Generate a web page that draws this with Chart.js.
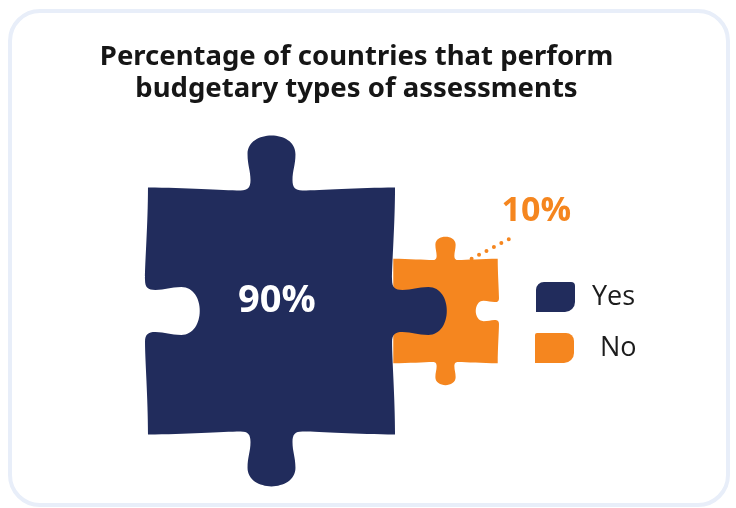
<!DOCTYPE html>
<html>
<head>
<meta charset="utf-8">
<script src="https://cdn.jsdelivr.net/npm/chart.js@4.4.1/dist/chart.umd.min.js"></script>
<style>
  html, body { margin: 0; padding: 0; background: #fff; }
  body { width: 736px; height: 508px; position: relative; overflow: hidden; }
  .card {
    position: absolute; left: 8px; top: 9px; width: 714px; height: 490px;
    border: 4px solid #e8eef9; border-radius: 32px; background: #fff;
  }
  canvas { position: absolute; left: 0; top: 0; }
</style>
</head>
<body>
<div class="card"></div>
<canvas id="puzzleChart" width="736" height="508"></canvas>
<script>
const titleLines = ['Percentage of countries that perform', 'budgetary types of assessments'];
const answers = ['Yes', 'No'];
const shares = [90, 10];
const pieceColors = ['#212c5c', '#f5861f'];

// knob/hole per side: top, right, bottom, left (1 = knob, -1 = hole, 0 = flat)
const pieceEdges = [[1, 1, 1, -1], [1, -1, 1, 0]];

// one side of a piece as cubic segments, (t along the side, n outwards), unit length
const KNOB = [
  [0.15, 0, 0.3, -0.012, 0.375, -0.012],
  [0.405, -0.012, 0.415, 0, 0.415, 0.03],
  [0.415, 0.07, 0.403, 0.09, 0.403, 0.135],
  [0.403, 0.235, 0.597, 0.235, 0.597, 0.135],
  [0.597, 0.09, 0.585, 0.07, 0.585, 0.03],
  [0.585, 0, 0.595, -0.012, 0.625, -0.012],
  [0.7, -0.012, 0.85, 0, 1, 0]
];

function side(ctx, dir, map) {
  if (!dir) {
    const p = map(1, 0);
    ctx.lineTo(p[0], p[1]);
    return;
  }
  KNOB.forEach(c => {
    const a = map(c[0], c[1] * dir), b = map(c[2], c[3] * dir), e = map(c[4], c[5] * dir);
    ctx.bezierCurveTo(a[0], a[1], b[0], b[1], e[0], e[1]);
  });
}

function piecePath(ctx, cx, cy, s, edges) {
  const L = cx - s / 2, T = cy - s / 2, R = cx + s / 2, B = cy + s / 2;
  ctx.beginPath();
  ctx.moveTo(L, T);
  side(ctx, edges[0], (t, n) => [L + t * s, T - n * s]);
  side(ctx, edges[1], (t, n) => [R + n * s, T + t * s]);
  side(ctx, edges[2], (t, n) => [R - t * s, B + n * s]);
  side(ctx, edges[3], (t, n) => [L - n * s, B - t * s]);
  ctx.closePath();
}

function pieceBox(chart, i) {
  const bar = chart.getDatasetMeta(0).data[i];
  const {x, y, base} = bar.getProps(['x', 'y', 'base'], true);
  const area = chart.chartArea;
  return {x: x, y: (area.top + area.bottom) / 2, s: base - y};
}

// bars are drawn as jigsaw pieces, side = bar height
const puzzlePieces = {
  id: 'puzzlePieces',
  beforeDatasetsDraw(chart) {
    const ctx = chart.ctx;
    ctx.save();
    // small piece first so the big one's knob sits over it
    [1, 0].forEach(i => {
      const p = pieceBox(chart, i);
      piecePath(ctx, p.x, p.y, p.s, pieceEdges[i]);
      ctx.fillStyle = pieceColors[i];
      ctx.fill();
    });
    ctx.restore();
    return false;
  },
  afterDraw(chart) {
    const ctx = chart.ctx;
    ctx.save();
    ctx.textAlign = 'center';
    ctx.textBaseline = 'middle';

    const big = pieceBox(chart, 0);
    ctx.fillStyle = '#ffffff';
    ctx.font = 'bold 38px "Open Sans"';
    ctx.fillText(shares[0] + '%', big.x + 0.022 * big.s, big.y - 0.04 * big.s);

    const small = pieceBox(chart, 1);
    ctx.strokeStyle = pieceColors[1];
    ctx.lineWidth = 4;
    ctx.lineCap = 'round';
    ctx.setLineDash([0, 8.4]);
    ctx.beginPath();
    ctx.moveTo(small.x + 0.25 * small.s, small.y - 0.5 * small.s);
    ctx.lineTo(small.x + 0.62 * small.s, small.y - 0.695 * small.s);
    ctx.stroke();
    ctx.setLineDash([]);
    ctx.fillStyle = pieceColors[1];
    ctx.font = 'bold 34px "Open Sans"';
    ctx.fillText(shares[1] + '%', small.x + 0.87 * small.s, small.y - 0.95 * small.s);
    ctx.restore();
  }
};

// legend with leaf-shaped swatches
const legendLeft = 536, legendTop = 282, legendGap = 51;
const swatchCorners = [[8, 4, 10, 0], [2, 8, 10, 0]];
const labelIndent = [0, 8];
const leafLegend = {
  id: 'leafLegend',
  afterDraw(chart) {
    const ctx = chart.ctx;
    ctx.save();
    ctx.font = '27px "Open Sans"';
    ctx.textBaseline = 'middle';
    ctx.textAlign = 'left';
    answers.forEach((label, i) => {
      const y = legendTop + i * legendGap;
      ctx.beginPath();
      ctx.roundRect(legendLeft - i, y, 39, 30, swatchCorners[i]);
      ctx.fillStyle = pieceColors[i];
      ctx.fill();
      ctx.fillStyle = '#1c1c1c';
      ctx.fillText(label, legendLeft + 56 + labelIndent[i], y + 15);
    });
    ctx.restore();
  }
};

// invisible axes that only reserve room on both sides of the pieces
const spacer = width => ({
  display: true,
  grid: {display: false},
  border: {display: false},
  ticks: {display: false},
  afterFit(scale) { scale.width = width; }
});

new Chart(document.getElementById('puzzleChart'), {
  type: 'bar',
  data: {
    labels: answers,
    datasets: [{
      data: shares,
      backgroundColor: pieceColors
    }]
  },
  options: {
    responsive: false,
    animation: false,
    devicePixelRatio: 1,
    layout: {padding: {left: 10, right: 33, top: 10, bottom: 6}},
    scales: {
      x: {display: false},
      y: Object.assign(spacer(174.5), {type: 'logarithmic', min: 2, max: 720}),
      yRight: Object.assign(spacer(170.5), {position: 'right'})
    },
    plugins: {
      legend: {display: false},
      tooltip: {enabled: false},
      title: {
        display: true,
        text: titleLines,
        color: '#161616',
        font: {family: '"Noto Sans"', size: 27.5, weight: 'bold', lineHeight: 32 / 27.5},
        padding: {top: 31, bottom: 15}
      }
    }
  },
  plugins: [puzzlePieces, leafLegend]
});
</script>
</body>
</html>
